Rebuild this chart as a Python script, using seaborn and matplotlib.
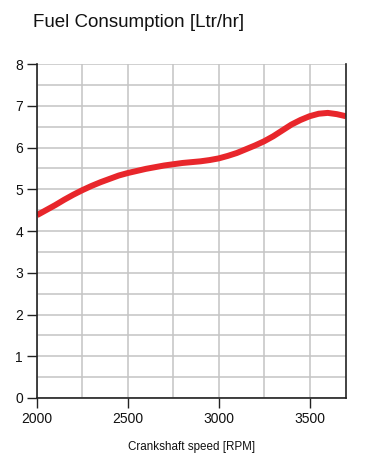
import matplotlib
matplotlib.use("Agg")
import matplotlib.pyplot as plt
import seaborn as sns
import pandas as pd
from matplotlib.ticker import MultipleLocator

rpm = [2000, 2050, 2100, 2150, 2200, 2250, 2300, 2350, 2400, 2450,
       2500, 2550, 2600, 2650, 2700, 2750, 2800, 2850, 2900, 2950,
       3000, 3050, 3100, 3150, 3200, 3250, 3300, 3350, 3400, 3450,
       3500, 3550, 3600, 3650, 3700]
fuel = [4.38, 4.50, 4.62, 4.75, 4.87, 4.98, 5.08, 5.17, 5.25, 5.33,
        5.39, 5.44, 5.49, 5.53, 5.57, 5.60, 5.63, 5.65, 5.67, 5.70,
        5.74, 5.80, 5.87, 5.96, 6.05, 6.15, 6.27, 6.41, 6.55, 6.66,
        6.75, 6.81, 6.83, 6.80, 6.75]
x_ticks = [2000, 2500, 3000, 3500]
y_ticks = [0, 1, 2, 3, 4, 5, 6, 7, 8]

df = pd.DataFrame({"rpm": rpm, "fuel": fuel})

sns.set_style("white")
plt.rcParams['font.family'] = ['Liberation Sans', 'DejaVu Sans']

fig = plt.figure(figsize=(3.68, 4.71), dpi=100)
ax = fig.add_axes([0.1005, 0.155, 0.8395, 0.709])

sns.lineplot(data=df, x="rpm", y="fuel", ax=ax, color="#e8262b", linewidth=4.3,
             solid_capstyle="butt", solid_joinstyle="round")

ax.set_xlim(2000, 3700)
ax.set_ylim(0, 8)
ax.set_xticks(x_ticks)
ax.set_yticks(y_ticks)
ax.xaxis.set_minor_locator(MultipleLocator(250))
ax.yaxis.set_minor_locator(MultipleLocator(0.5))
ax.grid(True, which="both", color="#c4c4c4", linewidth=1.1)
ax.set_axisbelow(True)
ax.tick_params(axis="both", which="major", direction="out", length=7, width=1,
               color="#222222", labelsize=10, pad=3, labelcolor="#111111",
               left=True, bottom=True)
ax.tick_params(axis="both", which="minor", length=0)

for s in ["left", "bottom", "right"]:
    ax.spines[s].set_color("#222222")
    ax.spines[s].set_linewidth(1.2)
ax.spines["top"].set_visible(False)

ax.set_xlabel("Crankshaft speed [RPM]", fontsize=8.4, color="#111111", labelpad=11)
ax.set_ylabel("")

fig.text(0.09, 0.942, "Fuel Consumption [Ltr/hr]", fontsize=13.5,
         color="#111111", va="baseline")

fig.savefig("out.png", dpi=100)
